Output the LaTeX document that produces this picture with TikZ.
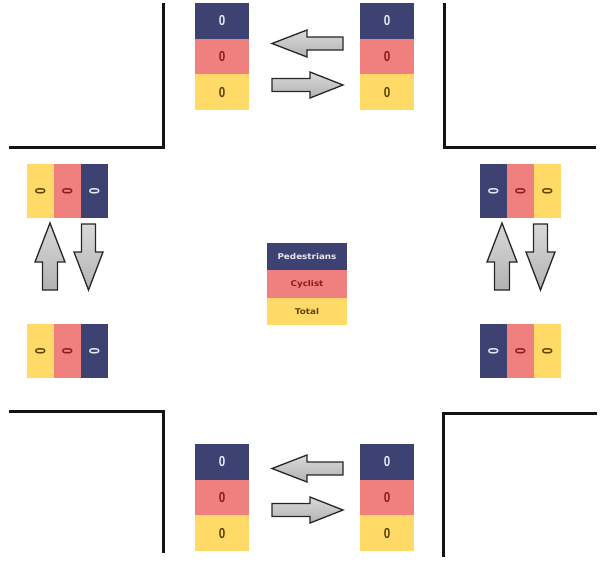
\documentclass[tikz,border=0pt]{standalone}
\usepackage{fontspec}
\setmainfont{Liberation Sans}
\newfontfamily\labelfont{DejaVu Sans}
\definecolor{pednavy}{HTML}{3E4272}
\definecolor{cycpink}{HTML}{F0807E}
\definecolor{totyellow}{HTML}{FFDA66}
\definecolor{pedtext}{HTML}{E6E8F4}
\definecolor{cyctext}{HTML}{8A1C22}
\definecolor{tottext}{HTML}{5C4300}
\newcommand{\digit}{\scalebox{0.8}[1]{\bfseries 0}}
\newcommand{\sidedigit}{\rotatebox{90}{\digit}}
\newcommand{\legendtext}[1]{\scalebox{1.1}[1]{#1}}
\begin{document}
\begin{tikzpicture}[x=1pt,y=-1pt,
  cell/.style={inner sep=0pt, outer sep=0pt, anchor=north west,
    font=\fontsize{14.5}{14.5}\selectfont},
  vcell/.style={cell, minimum width=54pt, minimum height=35.7pt},
  hcell/.style={cell, minimum width=27pt, minimum height=54pt},
  ped/.style={fill=pednavy, text=pedtext},
  cyc/.style={fill=cycpink, text=cyctext},
  tot/.style={fill=totyellow, text=tottext},
  lcell/.style={cell, minimum width=80pt, minimum height=27.4pt,
    font=\labelfont\bfseries\fontsize{8}{8}\selectfont},
  curb/.style={line width=3pt, draw=black!92},
  arrowbody/.style={draw=black!85, line width=1.3pt, top color=black!15,
    bottom color=black!30, line join=miter},
  pics/barrow/.style n args={4}{code={
    \draw[arrowbody] (0,-#4) -- (#1-#2,-#4) -- (#1-#2,-#3) -- (#1,0)
      -- (#1-#2,#3) -- (#1-#2,#4) -- (0,#4) -- cycle;}}
]
\useasboundingbox (0,0) rectangle (605,563);

% kerb corners
\draw[curb] (163,3) -- (163,147) -- (9,147);
\draw[curb] (444,3) -- (444,147) -- (596,147);
\draw[curb] (9,411) -- (163,411) -- (163,553);
\draw[curb] (597,413) -- (443,413) -- (443,557);

% northern counters
\node[vcell,ped] (nlp) at (195,3) {\digit};
\node[vcell,cyc] (nlc) at (nlp.south west) {\digit};
\node[vcell,tot] (nlt) at (nlc.south west) {\digit};
\node[vcell,ped] (nrp) at (360,3) {\digit};
\node[vcell,cyc] (nrc) at (nrp.south west) {\digit};
\node[vcell,tot] (nrt) at (nrc.south west) {\digit};

% southern counters
\node[vcell,ped] (slp) at (195,444) {\digit};
\node[vcell,cyc] (slc) at (slp.south west) {\digit};
\node[vcell,tot] (slt) at (slc.south west) {\digit};
\node[vcell,ped] (srp) at (360,444) {\digit};
\node[vcell,cyc] (src) at (srp.south west) {\digit};
\node[vcell,tot] (srt) at (src.south west) {\digit};

% western counters
\node[hcell,tot] (wut) at (27,164) {\sidedigit};
\node[hcell,cyc] (wuc) at (wut.north east) {\sidedigit};
\node[hcell,ped] (wup) at (wuc.north east) {\sidedigit};
\node[hcell,tot] (wdt) at (27,324) {\sidedigit};
\node[hcell,cyc] (wdc) at (wdt.north east) {\sidedigit};
\node[hcell,ped] (wdp) at (wdc.north east) {\sidedigit};

% eastern counters
\node[hcell,ped] (eup) at (480,164) {\sidedigit};
\node[hcell,cyc] (euc) at (eup.north east) {\sidedigit};
\node[hcell,tot] (eut) at (euc.north east) {\sidedigit};
\node[hcell,ped] (edp) at (480,324) {\sidedigit};
\node[hcell,cyc] (edc) at (edp.north east) {\sidedigit};
\node[hcell,tot] (edt) at (edc.north east) {\sidedigit};

% legend
\node[lcell,ped] (legp) at (267,243) {\legendtext{Pedestrians}};
\node[lcell,cyc] (legc) at (legp.south west) {\legendtext{Cyclist}};
\node[lcell,tot] (legt) at (legc.south west) {\legendtext{Total}};

% direction arrows, north and south
\pic[rotate=180] at (343,43.5) {barrow={71}{35}{13.5}{6.5}};
\pic at (272,85) {barrow={71}{33}{13}{6.5}};
\pic[rotate=180] at (343,468.5) {barrow={71}{35}{13.5}{6.5}};
\pic at (272,510) {barrow={71}{33}{13}{6.5}};

% direction arrows, west and east
\pic[rotate=90] at (50,290) {barrow={67}{39}{15}{7.5}};
\pic[rotate=-90] at (88.5,224) {barrow={66}{38}{14.5}{7}};
\pic[rotate=90] at (502,290) {barrow={67}{39}{15}{7.5}};
\pic[rotate=-90] at (540.5,224) {barrow={66}{38}{14.5}{7}};
\end{tikzpicture}
\end{document}
